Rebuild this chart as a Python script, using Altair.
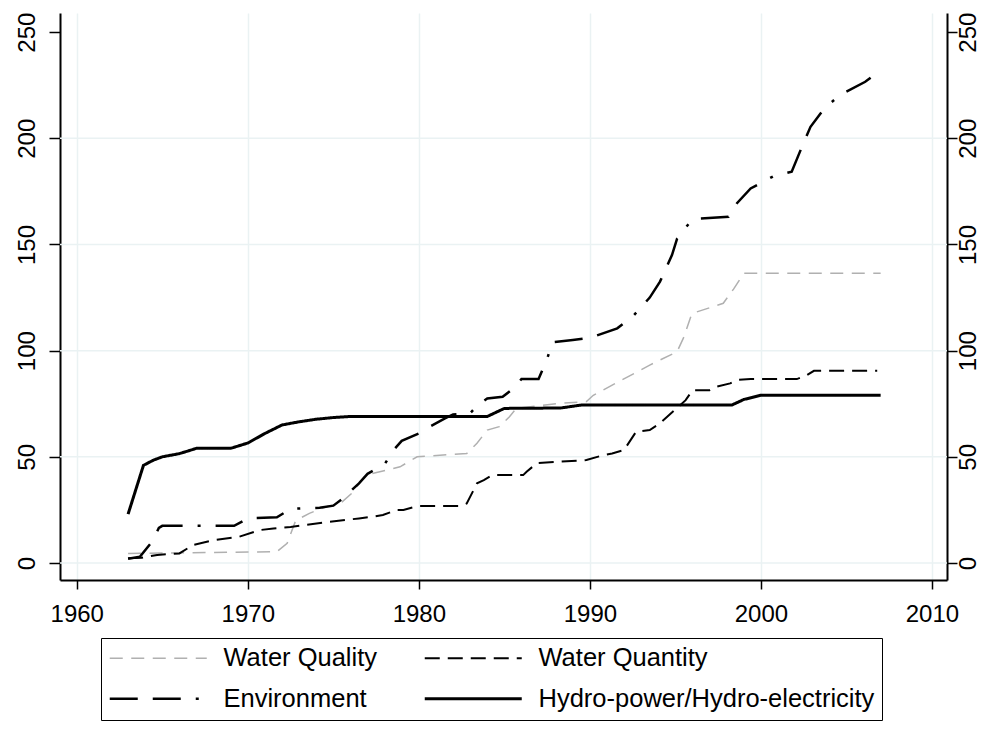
import altair as alt
import pandas as pd

series_names = ["Water Quality", "Water Quantity", "Environment", "Hydro-power/Hydro-electricity"]

qual_years = [1963.0, 1971.7, 1972.3, 1972.8, 1973.6, 1974.6, 1975.4, 1976.1, 1976.9, 1978.9, 1979.9,
              1982.8, 1983.4, 1984.0, 1984.7, 1985.3, 1985.7, 1988.2, 1989.8, 1990.2, 1993.5, 1994.1,
              1995.1, 1995.5, 1995.9, 1996.0, 1997.8, 1998.4, 1999.0, 2007.0]
qual_vals = [4.5, 5.3, 9.3, 20, 23.4, 26.5, 28, 33, 41.4, 45.3, 50,
             51.6, 56.4, 62.6, 64.2, 68.9, 72.8, 75.2, 76, 79, 93.2, 95.6,
             99.5, 106.5, 116, 117.6, 122.3, 129, 136.4, 136.4]

quan_years = [1963.0, 1963.8, 1964.7, 1966.0, 1966.8, 1968.0, 1969.5, 1970.7, 1971.5, 1972.5, 1974.8,
              1976.5, 1977.3, 1977.9, 1978.7, 1979.1, 1979.9, 1982.4, 1982.8, 1983.4, 1983.8, 1984.3,
              1986.1, 1986.3, 1986.9, 1989.8, 1990.8, 1991.3, 1992.0, 1992.7, 1993.5, 1994.1, 1995.6,
              1996.0, 1997.0, 1997.4, 1998.2, 1998.6, 1999.4, 2002.1, 2002.7, 2003.1, 2006.8]
quan_vals = [2.2, 2.5, 3.8, 4.5, 8.5, 10.8, 12.4, 15.5, 16.3, 17, 19.4,
             21, 21.8, 22.6, 25, 25, 26.8, 26.8, 28, 37.5, 39, 41.4,
             41.4, 43, 47, 48.5, 50.8, 51.6, 53.2, 61.8, 62.6, 65.8, 76.7,
             81.4, 81.4, 83, 84.6, 86.2, 86.6, 86.6, 88.5, 90.5, 90.5]

env_years = [1963.0, 1963.7, 1964.4, 1964.8, 1965.0, 1969.2, 1970.0, 1971.7, 1972.5, 1974.2, 1975.0,
             1975.5, 1976.5, 1977.0, 1978.0, 1978.5, 1979.0, 1980.0, 1980.7, 1981.5, 1982.0, 1983.0,
             1983.4, 1984.0, 1984.9, 1985.5, 1986.0, 1987.0, 1987.5, 1987.8, 1989.0, 1990.0, 1991.6,
             1992.5, 1993.5, 1994.1, 1994.8, 1995.1, 1996.0, 1998.1, 1998.6, 1999.4, 2000.7, 2001.8,
             2002.4, 2002.9, 2003.7, 2004.6, 2006.1, 2006.9]
env_vals = [2, 3, 10, 16.5, 17.5, 17.5, 21, 21.5, 25.5, 26, 27,
            30, 37.5, 42, 46.5, 53, 57.5, 61, 64.5, 68, 70, 70.5,
            74, 77.5, 78.3, 82, 86.6, 86.6, 96, 104, 105, 106, 110.5,
            116, 125, 132.5, 145, 152.8, 162, 163, 169.4, 176.4, 182, 184.3,
            196, 205.4, 214, 220.3, 226.6, 231.6]

hydro_years = [1963.0, 1963.9, 1964.5, 1965.0, 1966.0, 1967.0, 1969.0, 1970.0, 1971.0, 1972.0, 1973.0,
               1974.0, 1975.0, 1976.0, 1984.0, 1985.0, 1988.3, 1989.5, 1998.3, 1999.0, 2000.0, 2007.0]
hydro_vals = [23, 46, 48.5, 50, 51.5, 54, 54, 56.5, 61, 65, 66.5,
              67.7, 68.5, 69, 69, 72.8, 73, 74.4, 74.4, 77, 79, 79]

x_ticks = [1960, 1970, 1980, 1990, 2000, 2010]
y_ticks = [0, 50, 100, 150, 200, 250]
grid_y = [0, 50, 100, 150, 200]

rows = []
for name, ys, vs in [(series_names[0], qual_years, qual_vals),
                     (series_names[1], quan_years, quan_vals),
                     (series_names[2], env_years, env_vals),
                     (series_names[3], hydro_years, hydro_vals)]:
    for i, (yr, v) in enumerate(zip(ys, vs)):
        rows.append({"series": name, "year": yr, "value": v, "ord": i})
df = pd.DataFrame(rows)
grid_df = pd.DataFrame({"g": grid_y})

FONT = "Liberation Sans"
yscale = alt.Scale(domain=[-8, 259], nice=False, zero=False)
xscale = alt.Scale(domain=[1959.02, 2010.88], nice=False, zero=False)

legend = alt.Legend(
    title=None, orient="none", legendX=41, legendY=625, columns=2, direction="horizontal",
    symbolType="M-5.5,0H43", symbolSize=16, labelOffset=90, labelLimit=500,
    labelFont=FONT, labelFontSize=25.5, labelColor="black",
    columnPadding=40, rowPadding=14, padding=7,
    strokeColor="black", fillColor="white",
)

grid_layer = alt.Chart(grid_df).mark_rule(color="#eaf2f3", strokeWidth=1.5).encode(
    y=alt.Y("g:Q", scale=yscale,
            axis=alt.Axis(orient="right", values=y_ticks, title=None, grid=False,
                          labelAngle=270, labelAlign="center", labelBaseline="top",
                          labelPadding=-1, tickSize=10))
)

lines = alt.Chart(df).mark_line().encode(
    x=alt.X("year:Q", scale=xscale,
            axis=alt.Axis(values=x_ticks, format="d", title=None, grid=True,
                          labelPadding=13, tickSize=9)),
    y=alt.Y("value:Q", scale=yscale,
            axis=alt.Axis(orient="left", values=y_ticks, title=None, grid=False,
                          labelAngle=270, labelAlign="center", labelBaseline="bottom",
                          labelPadding=10, tickSize=11)),
    color=alt.Color("series:N", scale=alt.Scale(domain=series_names,
                                                range=["#b0b0b0", "black", "black", "black"]),
                    legend=legend),
    strokeDash=alt.StrokeDash("series:N", scale=alt.Scale(domain=series_names,
                                                          range=[[13, 8.5], [15, 8], [28, 15, 28, 15, 3, 15], [1, 0]]),
                              legend=legend),
    strokeWidth=alt.StrokeWidth("series:N", scale=alt.Scale(domain=series_names,
                                                            range=[1.5, 3, 3, 3]),
                                legend=legend),
    order="ord:Q",
)

chart = alt.layer(grid_layer, lines).resolve_axis(y="independent").properties(
    width=887, height=567,
    autosize=alt.AutoSizeParams(type="none"),
    padding={"left": 52, "top": 5, "right": 30, "bottom": 143},
    background="white",
).configure_view(stroke=None).configure_axis(
    labelFont=FONT, labelFontSize=24, labelColor="black",
    domainColor="black", domainWidth=2, tickColor="black", tickWidth=1.5,
    gridColor="#eaf2f3", gridWidth=1.5,
)

chart.save("out.html", embed_options={"renderer": "svg", "actions": False})
